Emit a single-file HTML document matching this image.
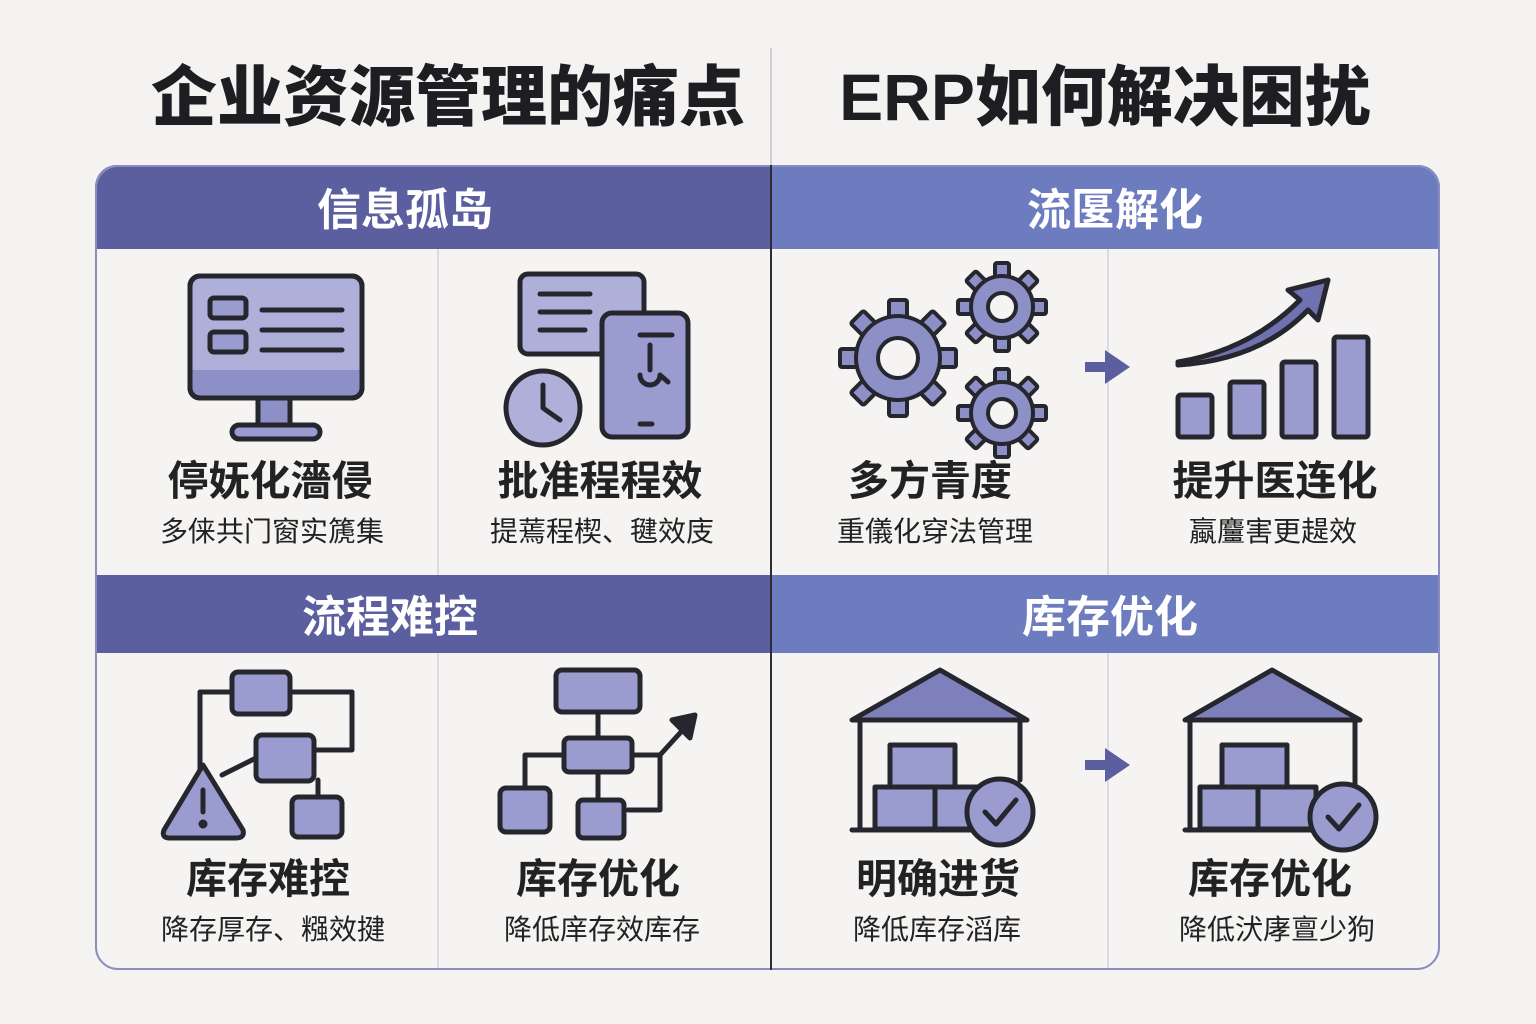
<!DOCTYPE html>
<html><head><meta charset="utf-8"><style>
html,body{margin:0;padding:0;background:#f4f3f1;}
svg{display:block}
text{font-family:"Liberation Sans","Noto Sans CJK SC",sans-serif;}
</style></head><body>
<svg width="1536" height="1024" viewBox="0 0 1536 1024" xmlns="http://www.w3.org/2000/svg">
<rect width="1536" height="1024" fill="#f4f3f1"/>
<text x="448" y="120" font-size="66" font-weight="900" text-anchor="middle" fill="#1e1e22">企业资源管理的痛点</text>
<text x="1105" y="120" font-size="66" font-weight="900" text-anchor="middle" fill="#1e1e22">ERP如何解决困扰</text>
<line x1="771" y1="48" x2="771" y2="165" stroke="#cfcfd4" stroke-width="2"/>
<defs>
<clipPath id="cp"><rect x="95" y="165" width="1345" height="805" rx="22"/></clipPath>
<g id="tb"><rect x="-9" y="-58" width="18" height="20" rx="2"/></g>
<g id="ts"><rect x="-7" y="-44" width="14" height="16" rx="2"/></g>
</defs>
<g clip-path="url(#cp)">
<rect x="95" y="165" width="1345" height="805" fill="#f5f4f2"/>
<rect x="95" y="165" width="676" height="84" fill="#5b5f9f"/>
<rect x="771" y="165" width="669" height="84" fill="#6d7cbf"/>
<rect x="95" y="575" width="676" height="78" fill="#5b5f9f"/>
<rect x="771" y="575" width="669" height="78" fill="#6d7cbf"/>
</g>
<rect x="96" y="166" width="1343" height="803" rx="22" fill="none" stroke="#8a8cc2" stroke-width="2"/>
<line x1="771" y1="165" x2="771" y2="970" stroke="#2c2c34" stroke-width="2"/>
<line x1="438" y1="249" x2="438" y2="575" stroke="#dcdce0" stroke-width="2"/>
<line x1="438" y1="653" x2="438" y2="968" stroke="#dcdce0" stroke-width="2"/>
<line x1="1108" y1="249" x2="1108" y2="575" stroke="#dcdce0" stroke-width="2"/>
<line x1="1108" y1="653" x2="1108" y2="968" stroke="#dcdce0" stroke-width="2"/>
<g font-size="44" font-weight="700" fill="#fff" text-anchor="middle">
<text x="405" y="225">信息孤岛</text>
<text x="1115" y="225">流匽解化</text>
<text x="390" y="632">流程难控</text>
<text x="1110" y="632">库存优化</text>
</g>
<g font-size="41" font-weight="700" fill="#222" text-anchor="middle">
<text x="270" y="495">停妩化濇侵</text>
<text x="600" y="495">批准程程效</text>
<text x="930" y="495">多方青度</text>
<text x="1275" y="495">提升医连化</text>
<text x="268" y="893">库存难控</text>
<text x="598" y="893">库存优化</text>
<text x="938" y="893">明确进货</text>
<text x="1270" y="893">库存优化</text>
</g>
<g font-size="28" fill="#222" text-anchor="middle">
<text x="272" y="541">多俫共门窗实篪集</text>
<text x="602" y="541">提蔫程楔、毽效庋</text>
<text x="935" y="541">重儀化穿法管理</text>
<text x="1273" y="541">蠃麠害更趧效</text>
<text x="273" y="939">降存厚存、糨效揵</text>
<text x="602" y="939">降低庠存效库存</text>
<text x="937" y="939">降低库存滔库</text>
<text x="1277" y="939">降低汱庨亶少狗</text>
</g>
<g stroke="#26262e" stroke-width="5" fill="#9a9cd0" stroke-linejoin="round" stroke-linecap="round">
<rect x="190" y="276" width="172" height="122" rx="10" fill="#aeb0da"/>
<rect x="192" y="370" width="168" height="26" fill="#8d90c6" stroke="none"/>
<rect x="190" y="276" width="172" height="122" rx="10" fill="none"/>
<rect x="258" y="398" width="32" height="27" fill="#8d90c6"/>
<rect x="232" y="425" width="88" height="14" rx="7"/>
<rect x="210" y="298" width="36" height="20" rx="4"/>
<rect x="210" y="332" width="36" height="20" rx="4"/>
<line x1="262" y1="310" x2="342" y2="310"/><line x1="262" y1="330" x2="342" y2="330"/><line x1="262" y1="350" x2="342" y2="350"/>
<rect x="520" y="274" width="124" height="80" rx="8" fill="#aeb0da"/>
<line x1="540" y1="294" x2="590" y2="294"/><line x1="540" y1="312" x2="590" y2="312"/><line x1="540" y1="330" x2="585" y2="330"/>
<rect x="602" y="313" width="86" height="124" rx="10" fill="#9a9cd0"/>
<line x1="640" y1="424" x2="652" y2="424"/>
<line x1="640" y1="335" x2="672" y2="335"/>
<path d="M650 345 L650 370 M640 375 a10 10 0 1 0 20 0 L668 382" fill="none"/>
<circle cx="543" cy="408" r="37" fill="#aeb0da"/>
<path d="M543 385 L543 408 L560 420" fill="none"/>
<!-- gears -->
<g fill="#8d90c6" stroke-width="4">
<g transform="translate(898,358)">
<use href="#tb"/><use href="#tb" transform="rotate(45)"/><use href="#tb" transform="rotate(90)"/><use href="#tb" transform="rotate(135)"/><use href="#tb" transform="rotate(180)"/><use href="#tb" transform="rotate(225)"/><use href="#tb" transform="rotate(270)"/><use href="#tb" transform="rotate(315)"/>
<circle r="42"/><circle r="20" fill="#f5f4f2"/>
</g>
<g transform="translate(1002,307)">
<use href="#ts"/><use href="#ts" transform="rotate(45)"/><use href="#ts" transform="rotate(90)"/><use href="#ts" transform="rotate(135)"/><use href="#ts" transform="rotate(180)"/><use href="#ts" transform="rotate(225)"/><use href="#ts" transform="rotate(270)"/><use href="#ts" transform="rotate(315)"/>
<circle r="31"/><circle r="14" fill="#f5f4f2"/>
</g>
<g transform="translate(1002,413)">
<use href="#ts"/><use href="#ts" transform="rotate(45)"/><use href="#ts" transform="rotate(90)"/><use href="#ts" transform="rotate(135)"/><use href="#ts" transform="rotate(180)"/><use href="#ts" transform="rotate(225)"/><use href="#ts" transform="rotate(270)"/><use href="#ts" transform="rotate(315)"/>
<circle r="31"/><circle r="14" fill="#f5f4f2"/>
</g>
</g>
<rect x="1178" y="395" width="34" height="42" rx="3"/>
<rect x="1230" y="382" width="34" height="55" rx="3"/>
<rect x="1282" y="362" width="34" height="75" rx="3"/>
<rect x="1334" y="337" width="34" height="100" rx="3"/>
<path d="M1178 362 Q1250 350 1300 300 L1288 290 L1328 280 L1318 320 L1308 310 Q1260 360 1178 365 Z" fill="#6f72b0"/>
<path d="M232 692 L200 692 L200 770 M290 692 L352 692 L352 750 L314 750 M256 758 L222 775 M318 780 L318 797" fill="none"/>
<rect x="232" y="672" width="58" height="42" rx="6"/>
<rect x="256" y="735" width="58" height="46" rx="6"/>
<rect x="292" y="797" width="50" height="40" rx="6"/>
<path d="M203 765 L243 830 Q245 838 236 838 L170 838 Q161 838 164 830 Z"/>
<line x1="203" y1="790" x2="203" y2="812"/><circle cx="203" cy="824" r="2" fill="#26262e"/>
<path d="M598 712 L598 738 M598 772 L598 800 M564 755 L525 755 L525 788 M632 755 L660 755 L660 810 L628 810" fill="none"/>
<path d="M660 755 L690 722" fill="none"/>
<path d="M695 715 L672 720 L690 738 Z" fill="#26262e"/>
<rect x="556" y="670" width="84" height="42" rx="6"/>
<rect x="564" y="738" width="68" height="34" rx="5"/>
<rect x="500" y="788" width="50" height="44" rx="6"/>
<rect x="578" y="800" width="46" height="38" rx="5"/>
<g>
<polygon points="852,720 940,670 1027,720" fill="#7d80bb"/>
<path d="M860 720 L860 830 M1020 720 L1020 780 M852 830 L1000 830" fill="none"/>
<rect x="890" y="745" width="65" height="42" fill="#9a9cd0"/>
<rect x="875" y="787" width="60" height="42" fill="#9a9cd0"/>
<rect x="935" y="787" width="55" height="42" fill="#9a9cd0"/>
<circle cx="1000" cy="812" r="33" fill="#9a9cd0"/>
<path d="M985 812 L996 824 L1016 800" fill="none"/>
</g>
<g>
<polygon points="1185,720 1272,670 1360,720" fill="#7d80bb"/>
<path d="M1190 720 L1190 830 M1355 720 L1355 790 M1185 830 L1320 830" fill="none"/>
<rect x="1222" y="745" width="65" height="42" fill="#9a9cd0"/>
<rect x="1200" y="787" width="58" height="42" fill="#9a9cd0"/>
<rect x="1258" y="787" width="58" height="42" fill="#9a9cd0"/>
<circle cx="1343" cy="817" r="33" fill="#9a9cd0"/>
<path d="M1328 817 L1339 829 L1359 805" fill="none"/>
</g>
</g>
<g fill="#5b5f9f">
<rect x="1085" y="362" width="22" height="10"/><polygon points="1105,350 1130,367 1105,384"/>
<rect x="1085" y="760" width="22" height="10"/><polygon points="1105,748 1130,765 1105,782"/>
</g>
</svg>
</body></html>
